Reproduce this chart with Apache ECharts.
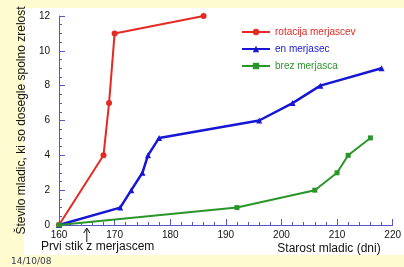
<!DOCTYPE html>
<html>
<head>
<meta charset="utf-8">
<script src="https://cdn.jsdelivr.net/npm/echarts@6/dist/echarts.min.js"></script>
<style>
html, body { margin: 0; padding: 0; background: #fefbd0; }
#main { width: 404px; height: 267px; }
</style>
</head>
<body>
<div id="main"></div>
<script>
// podatki, odcitani s slike
var rotacijaX = [160, 168, 169, 170, 186];
var rotacijaY = [0, 4, 7, 11, 12];
var enX = [160, 171, 173, 175, 176, 178, 196, 202, 207, 218];
var enY = [0, 1, 2, 3, 4, 5, 6, 7, 8, 9];
var brezX = [160, 192, 206, 210, 212, 216];
var brezY = [0, 1, 2, 3, 4, 5];
var names = ['rotacija merjascev', 'en merjasec', 'brez merjasca'];
var colors = ['#e42a22', '#1616d4', '#2a962a'];
var prviStik = 165;

function pairs(xs, ys) {
    var out = [];
    for (var i = 0; i < xs.length; i++) {
        out.push([xs[i], ys[i]]);
    }
    return out;
}

var font = 'Liberation Sans';
var axisColor = '#5656c8';
var dom = document.getElementById('main');
var myChart = echarts.init(dom);

var option = {
    animation: false,
    backgroundColor: '#fefbd0',
    textStyle: { fontFamily: font },
    grid: { left: 59, right: 9, top: 16, bottom: 42 },
    legend: {
        orient: 'vertical',
        left: 236,
        top: 22,
        itemWidth: 28,
        itemHeight: 8,
        itemGap: 7,
        data: [
            { name: names[0], textStyle: { color: colors[0] } },
            { name: names[1], textStyle: { color: colors[1] } },
            { name: names[2], textStyle: { color: colors[2] } }
        ],
        textStyle: { fontSize: 10, fontFamily: font }
    },
    xAxis: {
        type: 'value',
        min: 160,
        max: 220,
        interval: 10,
        name: 'Starost mladic (dni)',
        nameLocation: 'end',
        nameGap: -12,
        nameTextStyle: { fontSize: 12, color: '#111', align: 'right', verticalAlign: 'top', padding: [18, 0, 0, 0] },
        axisLine: { lineStyle: { color: axisColor, width: 1 } },
        axisTick: { inside: true, length: 6, lineStyle: { color: axisColor } },
        minorTick: { show: true, splitNumber: 5, length: 3, lineStyle: { color: axisColor } },
        axisLabel: { color: '#111', fontSize: 10, margin: 5 },
        splitLine: { show: false }
    },
    yAxis: {
        type: 'value',
        min: 0,
        max: 12,
        interval: 2,
        name: 'Število mladic, ki so dosegle spolno zrelost',
        nameLocation: 'middle',
        nameRotate: 90,
        nameGap: 20,
        nameTextStyle: { fontSize: 12, color: '#111' },
        axisLine: { show: true, lineStyle: { color: axisColor, width: 1 } },
        axisTick: { show: true, inside: true, length: 6, lineStyle: { color: axisColor } },
        minorTick: { show: true, splitNumber: 4, length: 3, lineStyle: { color: axisColor } },
        axisLabel: { color: '#111', fontSize: 10, margin: 9 },
        splitLine: { show: false }
    },
    series: [
        {
            name: names[0], type: 'line', data: pairs(rotacijaX, rotacijaY),
            symbol: 'circle', symbolSize: 6,
            lineStyle: { color: colors[0], width: 2 },
            itemStyle: { color: colors[0] }
        },
        {
            name: names[1], type: 'line', data: pairs(enX, enY),
            symbol: 'triangle', symbolSize: 6,
            lineStyle: { color: colors[1], width: 2.5 },
            itemStyle: { color: colors[1] }
        },
        {
            name: names[2], type: 'line', data: pairs(brezX, brezY),
            symbol: 'rect', symbolSize: 5,
            lineStyle: { color: colors[2], width: 2 },
            itemStyle: { color: colors[2] }
        }
    ]
};

myChart.setOption(option, true);

// bela podlaga, datum in puscica za prvi stik
var ax = myChart.convertToPixel({ xAxisIndex: 0 }, prviStik);
myChart.setOption({
    graphic: [
        { type: 'rect', z: -10, silent: true, shape: { x: 24, y: 8, width: 380, height: 247 }, style: { fill: '#ffffff' } },
        { type: 'text', left: 11, top: 257, style: { text: '14/10/08', fontSize: 9, fontFamily: 'DejaVu Sans', fill: '#3a3a50' } },
        { type: 'line', shape: { x1: ax, y1: 229, x2: ax, y2: 242 }, style: { stroke: '#111', lineWidth: 1 } },
        { type: 'polyline', shape: { points: [[ax - 3, 233], [ax, 228], [ax + 3, 233]] }, style: { stroke: '#111', lineWidth: 1, fill: null } },
        { type: 'text', left: 41, top: 241, style: { text: 'Prvi stik z merjascem', fontSize: 12, fontFamily: font, fill: '#111' } }
    ]
});
</script>
</body>
</html>
